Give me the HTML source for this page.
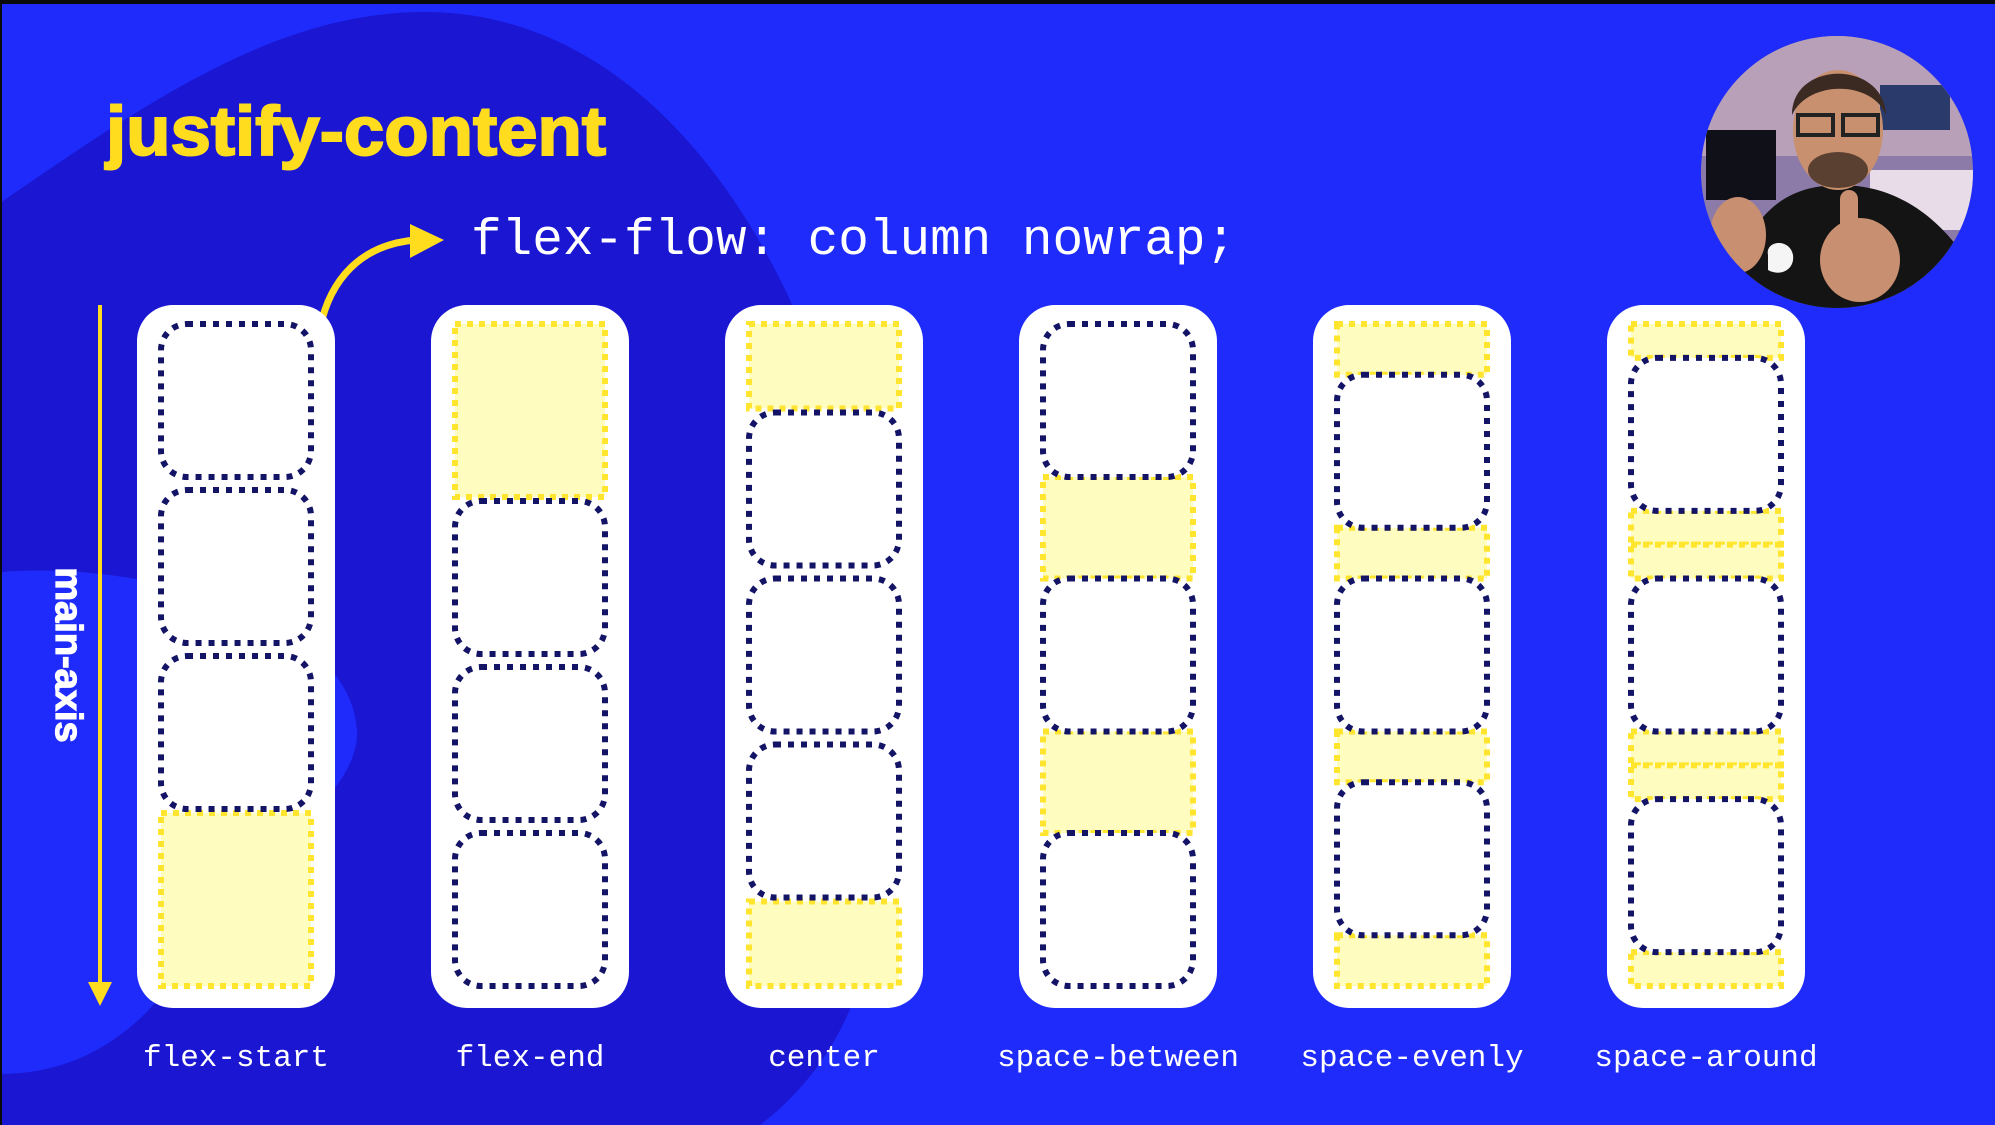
<!DOCTYPE html>
<html><head><meta charset="utf-8"><style>
html,body{margin:0;padding:0;background:#000;}
svg{display:block;}
</style></head><body>
<svg id="s" width="1995" height="1125" viewBox="0 0 1995 1125" xmlns="http://www.w3.org/2000/svg">
<defs><clipPath id="cam"><circle cx="1837" cy="172" r="136"/></clipPath></defs>
<rect x="0" y="0" width="1995" height="1125" fill="#1e2bfa"/>
<path d="M0,203 C150,100 280,10 430,12 C600,15 720,150 790,300 C840,420 860,700 872,900 C872,1000 820,1080 760,1125 L0,1125 Z" fill="#1a16d2"/>
<path d="M0,572 C150,560 350,620 357,730 C360,800 250,850 200,940 C160,1010 100,1074 0,1074 Z" fill="#1e2bfa"/>
<rect x="0" y="0" width="1995" height="4" fill="#0a0a0a"/>
<rect x="0" y="0" width="2" height="1125" fill="#0a0a0a"/>
<text x="106" y="155" font-family="Liberation Sans, sans-serif" font-weight="bold" font-size="70" fill="#ffdc1e" textLength="500" lengthAdjust="spacingAndGlyphs" stroke="#ffdc1e" stroke-width="2">justify-content</text>
<text x="471" y="254" font-family="Liberation Mono, monospace" font-size="51" fill="#ffffff">flex-flow: column nowrap;</text>
<path d="M320,328 C330,280 360,245 415,240" fill="none" stroke="#ffdc1e" stroke-width="7"/>
<polygon points="410,224 444,240 410,258" fill="#ffdc1e"/>
<line x1="100" y1="305" x2="100" y2="985" stroke="#ffdc1e" stroke-width="4"/>
<polygon points="88,982 112,982 100,1006" fill="#ffdc1e"/>
<text transform="translate(56,655) rotate(90)" text-anchor="middle" font-family="Liberation Sans, sans-serif" font-weight="bold" font-size="38" fill="#ffffff" stroke="#ffffff" stroke-width="1.2">main-axis</text>
<g id="cols"></g>
<g clip-path="url(#cam)">
<rect x="1700" y="36" width="275" height="275" fill="#8c7aa8"/>
<rect x="1700" y="36" width="275" height="120" fill="#b8a0b8"/>
<rect x="1706" y="130" width="70" height="70" fill="#101018"/>
<rect x="1880" y="85" width="70" height="45" fill="#2a3a6a"/>
<rect x="1870" y="170" width="110" height="60" fill="#e8dce8"/>
<path d="M1740,260 C1760,200 1800,185 1840,185 C1890,185 1930,210 1960,250 L1975,320 L1710,320 Z" fill="#141414"/>
<ellipse cx="1838" cy="130" rx="45" ry="60" fill="#c8906e"/>
<path d="M1792,115 C1792,60 1884,60 1886,115 C1872,80 1808,80 1792,115 Z" fill="#3a2a22"/>
<rect x="1798" y="115" width="35" height="20" fill="none" stroke="#222" stroke-width="4"/>
<rect x="1843" y="115" width="35" height="20" fill="none" stroke="#222" stroke-width="4"/>
<ellipse cx="1838" cy="170" rx="30" ry="18" fill="#5a4030"/>
<ellipse cx="1860" cy="260" rx="40" ry="42" fill="#c89070"/>
<rect x="1840" y="190" width="18" height="55" rx="9" fill="#c89070"/>
<ellipse cx="1738" cy="235" rx="28" ry="38" fill="#c89070"/>
<path d="M1768,255 C1765,240 1790,238 1793,255 C1795,270 1780,277 1768,270 Z" fill="#f5f5f5"/>
</g>
<g id="labels"></g>
</svg>
<script>
const categories = ['flex-start','flex-end','center','space-between','space-evenly','space-around'];
const itemCounts = [3,3,3,3,3,3];
const NS='http://www.w3.org/2000/svg';
const cols=document.getElementById('cols');
const labels=document.getElementById('labels');
function mk(tag,attrs){const e=document.createElementNS(NS,tag);for(const k in attrs)e.setAttribute(k,attrs[k]);return e;}
const colX0=137, pitch=294, colW=198, colTop=305, colBot=1008, inset=24;
const innerTop=324, innerBot=986, itemH=153, gap=13;
function yellow(g,x,w,y,h){
  if(h<4)return;
  const r=mk('rect',{x:x,y:y,width:w,height:h,fill:'#fffcc0',stroke:'#ffe52e','stroke-width':6,'stroke-dasharray':'6 6'});
  
  
  g.appendChild(r);
}
function item(g,x,w,y,h){
  const r=mk('rect',{x:x,y:y,width:w,height:h,rx:26,fill:'#ffffff',stroke:'#141466','stroke-width':6,'stroke-dasharray':'6 7'});
  
  
  g.appendChild(r);
}
categories.forEach((c,i)=>{
  const x=colX0+i*pitch;
  const g=mk('g',{});
  
  
  const bg=mk('rect',{x:x,y:colTop,width:colW,height:colBot-colTop,rx:36,fill:'#ffffff'});
  
  
  g.appendChild(bg);
  const ix=x+inset, iw=colW-2*inset, H=innerBot-innerTop, n=itemCounts[i];
  let pos=[];
  if(c==='flex-start'||c==='flex-end'||c==='center'){
    const tot=n*itemH+(n-1)*gap, free=H-tot;
    const off=c==='flex-start'?0:c==='flex-end'?free:free/2;
    for(let k=0;k<n;k++)pos.push(innerTop+off+k*(itemH+gap));
    if(off>0)yellow(g,ix,iw,innerTop,off-4);
    if(H-off-tot>0)yellow(g,ix,iw,innerTop+off+tot+4,H-off-tot-4);
  } else {
    const free=H-n*itemH;
    let sp,start;
    if(c==='space-between'){sp=free/(n-1);start=0;}
    else if(c==='space-evenly'){sp=free/(n+1);start=sp;}
    else {sp=free/n;start=sp/2;}
    for(let k=0;k<n;k++)pos.push(innerTop+start+k*(itemH+sp));
    if(start>0)yellow(g,ix,iw,innerTop,start);
    for(let k=0;k<n-1;k++){
      const y0=pos[k]+itemH, y1=pos[k+1];
      if(c==='space-around'){yellow(g,ix,iw,y0,(y1-y0)/2);yellow(g,ix,iw,y0+(y1-y0)/2,(y1-y0)/2);}
      else yellow(g,ix,iw,y0,y1-y0);
    }
    const last=pos[n-1]+itemH;
    if(innerBot-last>0)yellow(g,ix,iw,last,innerBot-last);
  }
  pos.forEach(y=>item(g,ix,iw,y,itemH));
  cols.appendChild(g);
  const t=mk('text',{x:x+colW/2,y:1066,'text-anchor':'middle','font-family':'Liberation Mono, monospace','font-size':31,fill:'#ffffff'});
  t.textContent=c;
  
  
  labels.appendChild(t);
});
</script>
</body></html>
